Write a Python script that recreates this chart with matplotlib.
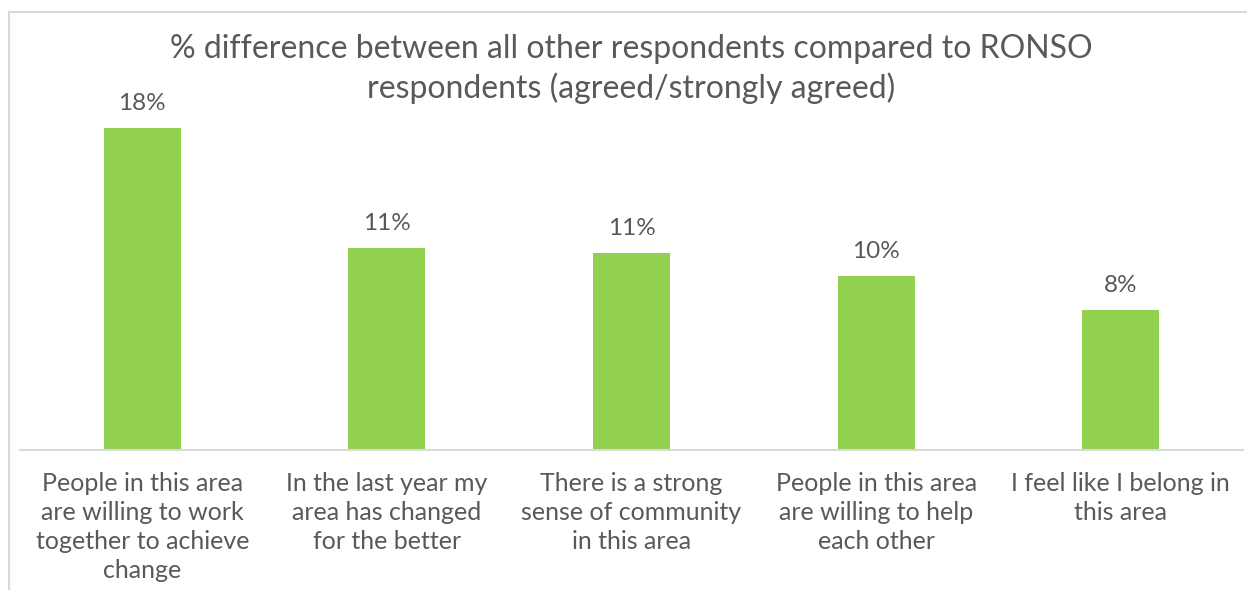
import matplotlib.pyplot as plt
from matplotlib.patches import Rectangle

categories = [
    "People in this area\nare willing to work\ntogether to achieve\nchange",
    "In the last year my\narea has changed\nfor the better",
    "There is a strong\nsense of community\nin this area",
    "People in this area\nare willing to help\neach other",
    "I feel like I belong in\nthis area",
]
differences = [18.0, 11.3, 11.0, 9.7, 7.8]  # percentage points

title = "% difference between all other respondents compared to RONSO\nrespondents (agreed/strongly agreed)"

BAR_COLOR = "#92D050"
TEXT_COLOR = "#595959"
FONT = ["Lato", "DejaVu Sans"]

W, H = 1247, 590
fig = plt.figure(figsize=(W / 100, H / 100), dpi=100)
plt.rcParams["font.family"] = FONT

# chart area: baseline at y=450px, spans x 20..1243px
ax = fig.add_axes([20 / W, 1 - 450 / H, 1223 / W, 358 / H])
x = range(len(categories))
bars = ax.bar(x, differences, width=0.315, color=BAR_COLOR)
ax.set_xlim(-0.5, len(categories) - 0.5)
ax.set_ylim(0, 20)

for b, v in zip(bars, differences):
    ax.annotate(f"{v:.0f}%", (b.get_x() + b.get_width() / 2, v),
                xytext=(0, 10), textcoords="offset points",
                ha="center", va="bottom", fontsize=17.5, color=TEXT_COLOR)

ax.set_xticks(list(x))
ax.set_xticklabels(categories, fontsize=18, color=TEXT_COLOR, linespacing=1.32)
ax.tick_params(axis="x", length=0, pad=16)
ax.set_yticks([])
for side in ["top", "right", "left"]:
    ax.spines[side].set_visible(False)
ax.spines["bottom"].set_color("#D9D9D9")
ax.spines["bottom"].set_linewidth(1.5)

fig.text(631 / W, 1 - 69 / H, title, ha="center", va="center",
         fontsize=23, color=TEXT_COLOR, linespacing=1.3)

# outer chart border, runs off the right and bottom edges
fig.patches.append(Rectangle((9 / W, -0.1), 1.2, 1 - 12 / H + 0.1,
                             transform=fig.transFigure, fill=False,
                             edgecolor="#D9D9D9", linewidth=1.5))

fig.savefig("out.png", dpi=100)
